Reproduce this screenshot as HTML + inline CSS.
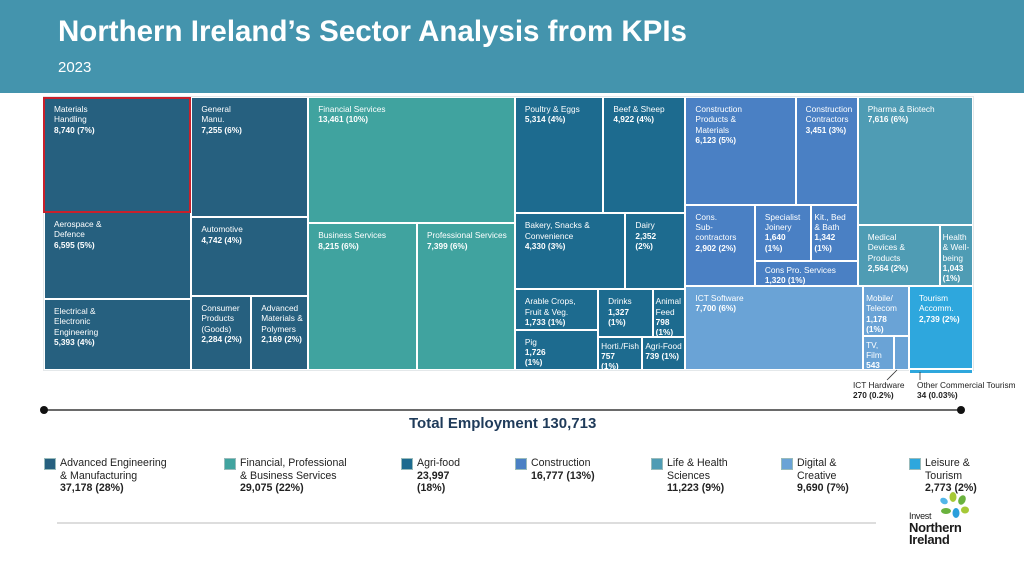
<!DOCTYPE html>
<html><head><meta charset="utf-8">
<style>
*{margin:0;padding:0;box-sizing:border-box}
body{width:1024px;height:576px;overflow:hidden;background:#fff;font-family:"Liberation Sans",Arial,sans-serif;position:relative}
#hdr{position:absolute;left:0;top:0;width:1024px;height:93px;background:#4494ad}
#title{position:absolute;left:58px;top:15px;color:#fff;font-size:29.5px;font-weight:bold}
#year{position:absolute;left:58px;top:59px;color:#fff;font-size:15px}
#chart{position:absolute;left:43px;top:96px;width:931px;height:275px;background:#e4e8ea}
.tile{position:absolute;border:1px solid #fff;color:#fff;font-size:8.3px;line-height:10.3px;padding:6px 0 0 9px;overflow:hidden}
.tile b{font-weight:bold}
.leg{position:absolute;top:457px;font-size:10.6px;line-height:12.7px;color:#222;padding-left:16px}
.leg i{position:absolute;left:0;top:1px;width:12px;height:12px;border:1px solid #9bb}
.leg b{display:block}
.ann{position:absolute;font-size:8.3px;line-height:10.3px;color:#222}
</style></head><body>
<div id="hdr"></div>
<div id="title">Northern Ireland’s Sector Analysis from KPIs</div>
<div id="year">2023</div>
<div id="chart"></div>
<div id="hl" style="position:absolute;left:43px;top:97px;width:148px;height:116px;border:2px solid #c8202b"></div>
<svg style="position:absolute;left:0;top:0" width="1024" height="576">
<line x1="44" y1="410" x2="961" y2="410" stroke="#111" stroke-width="1.3"/>
<circle cx="44" cy="410" r="4" fill="#111"/><circle cx="961" cy="410" r="4" fill="#111"/>
<line x1="897" y1="370" x2="887" y2="380" stroke="#333" stroke-width="0.8"/>
<line x1="920" y1="372" x2="920" y2="380" stroke="#333" stroke-width="0.8"/>
<line x1="57" y1="523" x2="876" y2="523" stroke="#ddd" stroke-width="2"/>
<ellipse cx="944" cy="501" rx="4" ry="3" fill="#52b6e8" transform="rotate(30 944 501)"/>
<ellipse cx="953" cy="497" rx="3.5" ry="5" fill="#a6c937"/>
<ellipse cx="962" cy="500" rx="3.5" ry="5" fill="#6ab23e" transform="rotate(25 962 500)"/>
<ellipse cx="946" cy="511" rx="5" ry="3" fill="#6ab23e"/>
<ellipse cx="956" cy="513" rx="3.5" ry="5" fill="#2a9fdc"/>
<ellipse cx="965" cy="510" rx="4" ry="3.5" fill="#a6c937"/>
</svg>
<div style="position:absolute;left:409px;top:415px;font-size:15px;font-weight:bold;color:#1f3b5a">Total Employment 130,713</div>
<div class="ann" style="left:853px;top:380px">ICT Hardware<br><b>270 (0.2%)</b></div>
<div class="ann" style="left:917px;top:380px">Other Commercial Tourism<br><b>34 (0.03%)</b></div>
<div style="position:absolute;left:909px;top:509px;color:#1a1a1a;font-size:13px;line-height:12px;font-weight:bold;letter-spacing:-0.3px"><span style="font-size:9px;font-weight:normal">Invest</span><br>Northern<br>Ireland</div>
<div id="legend"></div>
<script>
const sectorNames=["Advanced Engineering\n& Manufacturing","Financial, Professional\n& Business Services","Agri-food","Construction","Life & Health\nSciences","Digital &\nCreative","Leisure &\nTourism"];
const sectorValues=["37,178 (28%)","29,075 (22%)","23,997\n(18%)","16,777 (13%)","11,223 (9%)","9,690 (7%)","2,773 (2%)"];
const sectorColors=["#26607f","#40a39f","#1d6b8f","#4a80c4","#4f9cb4","#6aa3d6","#2ea7dd"];
const legendX=[44,224,401,515,651,781,909];
const subNames=["Materials\nHandling","Aerospace &\nDefence","Electrical &\nElectronic\nEngineering","General\nManu.","Automotive","Consumer\nProducts\n(Goods)","Advanced\nMaterials &\nPolymers",
"Financial Services","Business Services","Professional Services",
"Poultry & Eggs","Beef & Sheep","Bakery, Snacks &\nConvenience","Dairy","Arable Crops,\nFruit & Veg.","Pig","Drinks","Animal\nFeed","Horti./Fish","Agri-Food",
"Construction\nProducts &\nMaterials","Construction\nContractors","Cons.\nSub-\ncontractors","Specialist\nJoinery","Kit., Bed\n& Bath","Cons Pro. Services",
"Pharma & Biotech","Medical\nDevices &\nProducts","Health\n& Well-\nbeing",
"ICT Software","Mobile/\nTelecom","TV, Film","",
"Tourism\nAccomm.",""];
const subValues=[8740,6595,5393,7255,4742,2284,2169,13461,8215,7399,5314,4922,4330,2352,1733,1726,1327,798,757,739,6123,3451,2902,1640,1342,1320,7616,2564,1043,7700,1178,543,270,2739,34];
const subLabels=["8,740 (7%)","6,595 (5%)","5,393 (4%)","7,255 (6%)","4,742 (4%)","2,284 (2%)","2,169 (2%)","13,461 (10%)","8,215 (6%)","7,399 (6%)","5,314 (4%)","4,922 (4%)","4,330 (3%)","2,352\n(2%)","1,733 (1%)","1,726\n(1%)","1,327\n(1%)","798\n(1%)","757\n(1%)","739 (1%)","6,123 (5%)","3,451 (3%)","2,902 (2%)","1,640\n(1%)","1,342\n(1%)","1,320 (1%)","7,616 (6%)","2,564 (2%)","1,043\n(1%)","7,700 (6%)","1,178\n(1%)","543\n(0.4%)","","2,739 (2%)",""];
const subSector=[0,0,0,0,0,0,0,1,1,1,2,2,2,2,2,2,2,2,2,2,3,3,3,3,3,3,4,4,4,5,5,5,5,6,6];
const tree={d:'h',c:[
 {d:'h',c:[{d:'v',c:[0,1,2]},{d:'v',c:[3,4,{d:'h',c:[5,6]}]}]},
 {d:'v',c:[7,{d:'h',c:[8,9]}]},
 {d:'v',c:[{d:'h',c:[10,11]},{d:'h',c:[12,13]},{d:'h',c:[{d:'v',c:[14,15]},{d:'v',c:[{d:'h',c:[16,17]},{d:'h',c:[18,19]}]}]}]},
 {d:'v',c:[{d:'h',c:[
   {d:'v',c:[{d:'h',c:[20,21]},{d:'h',c:[22,{d:'v',c:[{d:'h',c:[23,24]},25]}]}]},
   {d:'v',c:[26,{d:'h',c:[27,28]}]}]},
  {d:'h',c:[{d:'h',c:[29,{d:'v',c:[30,{d:'h',c:[31,32]}]}]},{d:'v',c:[33,34]}]}]}
]};
const chart=document.getElementById('chart');
const W=931,H=275;
function total(n){return typeof n==='number'?subValues[n]:n.c.reduce((s,k)=>s+total(k),0);}
function lay(n,x,y,w,h){
 if(typeof n==='number'){
  const el=document.createElement('div');
  
  
  el.className='tile';
  el.style.left=x+'px';el.style.top=y+'px';el.style.width=w+'px';el.style.height=h+'px';
  el.style.background=sectorColors[subSector[n]];
  if(w<50){el.style.paddingLeft='2px';}
  if(h<40){el.style.paddingTop='3px';}
  el.innerHTML=(subNames[n]?subNames[n].replace(/\n/g,'<br>')+'<br>':'')+'<b>'+subLabels[n].replace(/\n/g,'<br>')+'</b>';
  chart.appendChild(el);return;
 }
 const t=total(n);let off=0;
 n.c.forEach(k=>{const f=total(k)/t;
  if(n.d==='h'){lay(k,x+off,y,w*f,h);off+=w*f;}else{lay(k,x,y+off,w,h*f);off+=h*f;}});
}
lay(tree,1,1,W-2,H-2);
const lg=document.getElementById('legend');
sectorNames.forEach((s,i)=>{
 const d=document.createElement('div');
 
 
 d.className='leg';d.style.left=legendX[i]+'px';
 d.innerHTML='<i style="background:'+sectorColors[i]+'"></i>'+s.replace(/\n/g,'<br>')+'<b>'+sectorValues[i].replace(/\n/g,'<br>')+'</b>';
 lg.appendChild(d);
});
</script>
</body></html>
